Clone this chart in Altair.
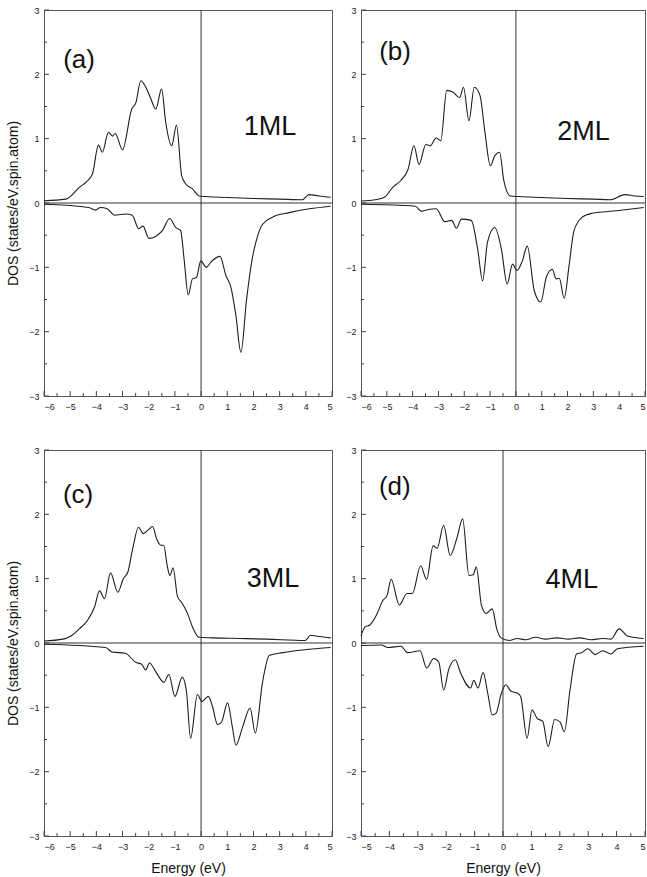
import altair as alt
import pandas as pd

# ---------------- data ----------------
A_UP_E = [-6.0, -5.17, -4.97, -4.66, -4.40, -4.15, -3.92, -3.77, -3.54, -3.38, -3.28, -3.00, -2.65, -2.49, -2.30, -2.11, -1.92, -1.73, -1.51, -1.35, -1.12, -0.94, -0.74, -0.59, -0.33, -0.08, 0.18, 1.0, 2.0, 3.0, 3.87, 4.12, 4.5, 4.95]
A_UP_D = [0.035, 0.06, 0.11, 0.24, 0.32, 0.45, 0.90, 0.79, 1.10, 1.04, 1.08, 0.83, 1.46, 1.56, 1.90, 1.80, 1.62, 1.46, 1.77, 1.25, 0.89, 1.21, 0.42, 0.30, 0.22, 0.11, 0.10, 0.085, 0.07, 0.06, 0.05, 0.13, 0.11, 0.09]
A_DN_E = [-6.0, -4.29, -4.04, -3.84, -3.59, -3.30, -2.89, -2.63, -2.38, -2.22, -1.99, -1.74, -1.48, -1.20, -0.97, -0.78, -0.65, -0.49, -0.33, -0.18, -0.01, 0.20, 0.37, 0.72, 0.95, 1.14, 1.33, 1.52, 1.74, 1.94, 2.16, 2.35, 2.73, 3.37, 4.14, 4.95]
A_DN_D = [-0.02, -0.07, -0.11, -0.07, -0.09, -0.19, -0.17, -0.19, -0.40, -0.36, -0.55, -0.52, -0.43, -0.24, -0.38, -0.43, -0.87, -1.43, -1.18, -1.16, -0.90, -1.00, -0.92, -0.83, -1.13, -1.31, -1.75, -2.32, -1.49, -0.90, -0.51, -0.33, -0.22, -0.15, -0.09, -0.05]

B_UP_E = [-6.0, -5.47, -5.09, -4.78, -4.46, -4.18, -3.95, -3.75, -3.49, -3.32, -3.09, -2.91, -2.68, -2.43, -2.18, -2.03, -1.82, -1.61, -1.39, -1.20, -0.99, -0.81, -0.63, -0.47, -0.22, 0.10, 1.0, 2.0, 3.0, 3.65, 4.22, 4.6, 4.95]
B_UP_D = [0.03, 0.05, 0.09, 0.24, 0.35, 0.52, 0.89, 0.60, 0.91, 0.89, 1.01, 0.97, 1.75, 1.72, 1.64, 1.80, 1.28, 1.80, 1.67, 1.10, 0.58, 0.74, 0.79, 0.35, 0.11, 0.10, 0.085, 0.07, 0.06, 0.05, 0.13, 0.11, 0.10]
B_DN_E = [-6.0, -3.89, -3.66, -3.38, -3.09, -2.75, -2.49, -2.30, -2.11, -1.73, -1.48, -1.29, -1.10, -0.82, -0.56, -0.34, -0.13, 0.04, 0.25, 0.44, 0.71, 0.96, 1.18, 1.41, 1.56, 1.68, 1.87, 2.06, 2.25, 2.57, 2.95, 3.90, 4.95]
B_DN_D = [-0.02, -0.05, -0.13, -0.10, -0.09, -0.29, -0.27, -0.39, -0.25, -0.27, -0.72, -1.21, -0.61, -0.38, -0.72, -1.26, -0.95, -1.05, -0.90, -0.67, -1.36, -1.54, -1.15, -1.03, -1.18, -1.17, -1.48, -0.97, -0.43, -0.22, -0.16, -0.12, -0.07]

C_UP_E = [-6.0, -5.28, -4.97, -4.65, -4.34, -4.07, -3.88, -3.69, -3.46, -3.18, -2.97, -2.80, -2.61, -2.39, -2.21, -2.04, -1.85, -1.70, -1.54, -1.43, -1.28, -1.19, -1.07, -0.90, -0.74, -0.52, -0.33, -0.08, 0.43, 1.5, 2.5, 3.98, 4.18, 4.5, 4.95]
C_UP_D = [0.03, 0.06, 0.11, 0.22, 0.35, 0.56, 0.81, 0.69, 1.09, 0.79, 1.00, 1.10, 1.47, 1.80, 1.70, 1.75, 1.81, 1.62, 1.52, 1.52, 1.17, 1.05, 1.17, 0.72, 0.63, 0.46, 0.25, 0.09, 0.08, 0.07, 0.06, 0.04, 0.12, 0.10, 0.08]
C_DN_E = [-6.0, -3.65, -3.40, -2.89, -2.50, -2.27, -2.12, -1.97, -1.74, -1.42, -1.23, -1.00, -0.72, -0.56, -0.40, -0.14, 0.03, 0.28, 0.43, 0.63, 0.79, 1.01, 1.20, 1.33, 1.59, 1.87, 2.07, 2.35, 2.61, 3.12, 4.95]
C_DN_D = [-0.02, -0.07, -0.14, -0.16, -0.30, -0.33, -0.42, -0.31, -0.44, -0.61, -0.49, -0.83, -0.53, -0.75, -1.48, -0.80, -0.91, -0.83, -0.98, -1.27, -1.22, -0.93, -1.32, -1.59, -1.30, -1.01, -1.40, -0.60, -0.19, -0.15, -0.07]

D_UP_E = [-5.0, -4.86, -4.69, -4.46, -4.23, -4.08, -3.94, -3.65, -3.38, -3.19, -2.90, -2.69, -2.46, -2.32, -2.09, -1.86, -1.63, -1.42, -1.20, -1.05, -0.94, -0.76, -0.59, -0.38, -0.22, -0.07, 0.22, 0.5, 0.8, 1.14, 1.5, 1.9, 2.3, 2.7, 3.1, 3.5, 3.80, 4.09, 4.38, 4.95]
D_UP_D = [0.11, 0.25, 0.28, 0.43, 0.66, 0.74, 0.99, 0.59, 0.77, 0.77, 1.20, 0.99, 1.51, 1.47, 1.83, 1.36, 1.62, 1.93, 1.05, 1.06, 1.18, 0.59, 0.46, 0.53, 0.22, 0.08, 0.04, 0.07, 0.05, 0.09, 0.06, 0.08, 0.06, 0.08, 0.05, 0.07, 0.06, 0.22, 0.11, 0.07]
D_DN_E = [-5.0, -4.28, -4.05, -3.59, -3.36, -2.92, -2.69, -2.44, -2.26, -2.09, -1.91, -1.68, -1.50, -1.14, -1.03, -0.88, -0.70, -0.53, -0.38, -0.24, -0.07, 0.10, 0.28, 0.51, 0.62, 0.85, 1.02, 1.20, 1.40, 1.59, 1.82, 2.01, 2.16, 2.36, 2.59, 2.76, 2.99, 3.24, 3.51, 3.80, 4.03, 4.95]
D_DN_D = [-0.04, -0.03, -0.07, -0.05, -0.15, -0.12, -0.39, -0.24, -0.30, -0.73, -0.41, -0.26, -0.46, -0.70, -0.58, -0.70, -0.46, -0.80, -1.12, -1.09, -0.80, -0.65, -0.75, -0.78, -0.83, -1.48, -1.04, -1.17, -1.22, -1.61, -1.19, -1.23, -1.38, -0.73, -0.17, -0.15, -0.09, -0.18, -0.12, -0.17, -0.09, -0.05]

PANEL_LETTERS = ["(a)", "(b)", "(c)", "(d)"]
ML_LABELS = ["1ML", "2ML", "3ML", "4ML"]
Y_TICKS = [-3, -2, -1, 0, 1, 2, 3]
Y_MINOR = [-2.5, -1.5, -0.5, 0.5, 1.5, 2.5]
X_TICKS_6 = [-6, -5, -4, -3, -2, -1, 0, 1, 2, 3, 4, 5]
X_TICKS_5 = [-5, -4, -3, -2, -1, 0, 1, 2, 3, 4, 5]
X_MINOR_6 = [-5.5, -4.5, -3.5, -2.5, -1.5, -0.5, 0.5, 1.5, 2.5, 3.5, 4.5]
X_MINOR_5 = [-4.5, -3.5, -2.5, -1.5, -0.5, 0.5, 1.5, 2.5, 3.5, 4.5]

W = 288
H = 386
FONT = "Liberation Sans"
LINE = "#1e1e1e"


def panel(up_e, up_d, dn_e, dn_d, xmin, xticks, xminor, letter, ml, letter_pos, ml_pos,
          ytitle, xtitle, width):
    xs = alt.Scale(domain=[xmin, 5], nice=False, zero=False)
    ys = alt.Scale(domain=[-3, 3], nice=False, zero=False)
    xax = alt.Axis(values=xticks, format="d", labelPadding=6, labelOverlap=False,
                   title=xtitle, titlePadding=10)
    yax = alt.Axis(values=Y_TICKS, format="d", labelPadding=5, labelOverlap=False,
                   title=ytitle, titlePadding=8)
    df = pd.concat([
        pd.DataFrame({"E": up_e, "D": up_d, "spin": "up"}),
        pd.DataFrame({"E": dn_e, "D": dn_d, "spin": "down"}),
    ])
    lines = alt.Chart(df).mark_line(color=LINE, strokeWidth=1.1, interpolate="monotone").encode(
        x=alt.X("E:Q", scale=xs, axis=xax),
        y=alt.Y("D:Q", scale=ys, axis=yax),
        detail="spin:N",
    )
    hz = alt.Chart().mark_rule(color="#333", strokeWidth=1.2).encode(
        y=alt.datum(0, scale=ys, axis=yax))
    vz = alt.Chart().mark_rule(color="#333", strokeWidth=1).encode(
        x=alt.datum(0, scale=xs, axis=xax))
    ytk = alt.Chart(pd.DataFrame({"v": Y_TICKS})).mark_rule(color="#444").encode(
        y=alt.Y("v:Q", scale=ys, axis=yax), x=alt.value(0), x2=alt.value(5))
    ytm = alt.Chart(pd.DataFrame({"v": Y_MINOR})).mark_rule(color="#444").encode(
        y=alt.Y("v:Q", scale=ys, axis=yax), x=alt.value(0), x2=alt.value(3))
    xtk = alt.Chart(pd.DataFrame({"v": xticks})).mark_rule(color="#444").encode(
        x=alt.X("v:Q", scale=xs, axis=xax), y=alt.value(H), y2=alt.value(H - 5))
    xtm = alt.Chart(pd.DataFrame({"v": xminor})).mark_rule(color="#444").encode(
        x=alt.X("v:Q", scale=xs, axis=xax), y=alt.value(H), y2=alt.value(H - 3))
    t1 = alt.Chart().mark_text(font=FONT, fontSize=26, color="#111").encode(
        x=alt.datum(letter_pos[0], scale=xs, axis=xax), y=alt.datum(letter_pos[1], scale=ys, axis=yax),
        text=alt.value(letter))
    t2 = alt.Chart().mark_text(font=FONT, fontSize=27, color="#111").encode(
        x=alt.datum(ml_pos[0], scale=xs, axis=xax), y=alt.datum(ml_pos[1], scale=ys, axis=yax),
        text=alt.value(ml))
    return alt.layer(lines, ytk, ytm, xtk, xtm, hz, vz, t1, t2).properties(width=width, height=H)


YT = "DOS (states/eV.spin.atom)"
XT = "Energy (eV)"
pa = panel(A_UP_E, A_UP_D, A_DN_E, A_DN_D, -6, X_TICKS_6, X_MINOR_6, PANEL_LETTERS[0], ML_LABELS[0],
           (-4.66, 2.22), (2.63, 1.18), YT, None, W)
pb = panel(B_UP_E, B_UP_D, B_DN_E, B_DN_D, -6, X_TICKS_6, X_MINOR_6, PANEL_LETTERS[1], ML_LABELS[1],
           (-4.68, 2.35), (2.62, 1.10), None, None, 284)
pc = panel(C_UP_E, C_UP_D, C_DN_E, C_DN_D, -6, X_TICKS_6, X_MINOR_6, PANEL_LETTERS[2], ML_LABELS[2],
           (-4.70, 2.30), (2.75, 1.00), YT, XT, W)
pd_ = panel(D_UP_E, D_UP_D, D_DN_E, D_DN_D, -5, X_TICKS_5, X_MINOR_5, PANEL_LETTERS[3], ML_LABELS[3],
            (-3.81, 2.43), (2.42, 0.98), None, XT, 284)

top = alt.hconcat(pa, pb, spacing=11)
bot = alt.hconcat(pc, pd_, spacing=11)
chart = alt.vconcat(top, bot, spacing=33).properties(
    padding={"left": 6, "top": 5, "right": 0, "bottom": 0},
    background="white",
).configure_view(stroke="#555", strokeWidth=1).configure_axis(
    labelFont=FONT, labelFontSize=9, labelColor="#222",
    titleFont=FONT, titleFontSize=14, titleFontWeight="normal", titleColor="#111",
    ticks=False, domain=False, grid=False,
)

chart.save("out.html", embed_options={"renderer": "svg", "actions": False})
